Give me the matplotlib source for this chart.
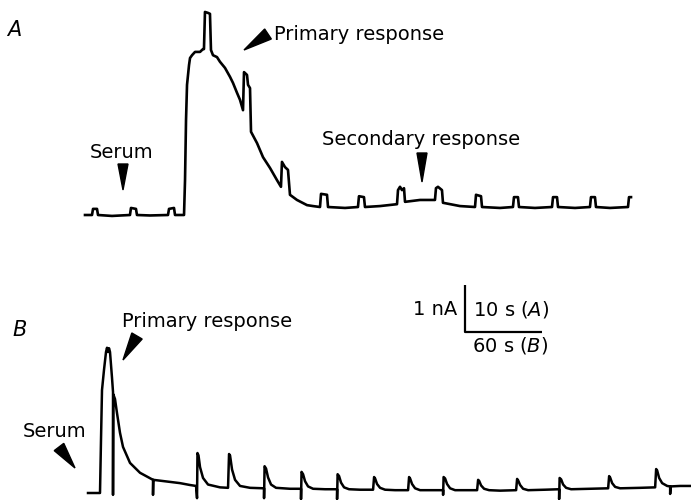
import matplotlib
matplotlib.use("Agg")
import matplotlib.pyplot as plt
from matplotlib.patches import Polygon
import numpy as np

# trace A: time (s) and current (nA)
a_time = [0, 0.91, 1.04, 1.56, 1.69, 3.51, 5.84, 5.97, 6.62, 6.75, 8.44,
          10.78, 10.91, 11.56, 11.69, 12.86, 12.99, 13.12, 13.25, 13.51, 13.64,
          13.90, 14.29, 14.94, 15.32, 15.45, 15.58, 15.97, 16.23, 16.36, 16.62,
          17.14, 17.53, 18.18, 18.83, 19.22, 19.74, 20.13, 20.52, 20.65, 21.04,
          21.17, 21.43, 21.56, 22.34, 23.12, 24.03, 24.94, 25.45, 25.58, 25.97,
          26.36, 26.62, 27.53, 28.83, 29.61, 30.52, 30.65, 31.43, 31.56, 33.77,
          35.45, 35.58, 36.23, 36.36, 38.31, 40.52, 40.65, 40.91, 41.17, 41.43,
          41.56, 43.51, 45.45, 45.58, 45.84, 46.36, 46.49, 48.70, 50.65, 50.78,
          51.43, 51.56, 53.90, 55.58, 55.71, 56.23, 56.36, 58.44, 60.65, 60.78,
          61.30, 61.43, 63.64, 65.58, 65.71, 66.23, 66.36, 68.18, 70.52, 70.65,
          70.91]
a_current = [0, 0, 0.13, 0.13, 0, -0.02, 0, 0.15, 0.13, 0, -0.01,
             0, 0.13, 0.15, 0, 0, 0.74, 2.02, 2.77, 3.19, 3.34,
             3.40, 3.47, 3.47, 3.53, 3.53, 4.32, 4.30, 4.28, 3.51, 3.40,
             3.36, 3.26, 3.13, 2.94, 2.81, 2.60, 2.45, 2.23, 3.04, 2.98,
             2.77, 2.70, 1.77, 1.53, 1.23, 1.00, 0.74, 0.60, 1.13, 1.02,
             0.96, 0.43, 0.32, 0.21, 0.19, 0.17, 0.45, 0.43, 0.17, 0.15,
             0.17, 0.40, 0.38, 0.17, 0.19, 0.23, 0.53, 0.60, 0.53, 0.57,
             0.28, 0.32, 0.32, 0.57, 0.60, 0.53, 0.26, 0.19, 0.17, 0.43,
             0.40, 0.17, 0.15, 0.17, 0.38, 0.38, 0.17, 0.15, 0.17, 0.38,
             0.38, 0.17, 0.15, 0.17, 0.38, 0.38, 0.17, 0.15, 0.17, 0.38,
             0.38]

# trace B: time (s) and current (nA)
b_time = [0, 9.35, 10.13, 10.91, 12.47, 14.03, 14.81, 15.6, 16.37, 17.15,
          18.71, 19.49, 19.49, 19.7, 21.04, 22.6, 24.94, 27.28, 32.74, 40.53,
          50.66, 50.66, 50.9, 71.71, 79.5, 84.18, 84.96, 85.3, 86.1, 87.30,
          89.63, 93.53, 102.88, 109.12, 109.90, 110.68, 112.24, 114.58, 118.47, 126.27,
          137.18, 137.18, 137.6, 138.74, 140.30, 142.63, 146.53, 157.44, 165.99, 165.99,
          166.4, 167.58, 169.13, 171.47, 175.37, 184.72, 194.08, 194.08, 194.5, 195.64,
          197.19, 199.53, 203.43, 212.0, 222.14, 222.92, 223.70, 225.25, 227.59, 231.49,
          239.28, 249.42, 250.19, 250.97, 252.53, 254.87, 258.77, 266.56, 276.70, 276.70,
          277.1, 278.25, 279.81, 282.15, 286.05, 293.84, 303.20, 303.98, 304.76, 306.31,
          308.65, 312.55, 321.12, 333.59, 334.37, 335.15, 336.71, 339.05, 342.95, 356.20,
          367.11, 367.11, 367.5, 368.67, 370.23, 372.56, 376.46, 391.27, 405.30, 406.08,
          406.86, 408.42, 410.76, 414.65, 430.24, 441.93, 442.71, 443.49, 445.05, 447.39,
          451.29, 453.62, 453.62, 454.0, 461.42, 469.99]
b_current = [0, 0, 1.13, 2.19, 2.62, 3.00, 3.09, 3.00, 3.08, 3.00,
             2.45, 2.15, -0.04, 2.10, 2.00, 1.70, 1.28, 0.98, 0.64, 0.43,
             0.28, -0.04, 0.28, 0.21, 0.17, 0.15, -0.11, 0.85, 0.80, 0.55,
             0.32, 0.18, 0.12, 0.11, 0.83, 0.80, 0.50, 0.28, 0.15, 0.11,
             0.10, -0.11, 0.57, 0.52, 0.33, 0.18, 0.11, 0.09, 0.09, -0.13,
             0.45, 0.40, 0.25, 0.14, 0.09, 0.08, 0.08, -0.13, 0.40, 0.36,
             0.22, 0.12, 0.08, 0.07, 0.07, 0.34, 0.31, 0.19, 0.11, 0.07,
             0.06, 0.06, 0.34, 0.31, 0.19, 0.10, 0.06, 0.06, 0.06, -0.04,
             0.34, 0.31, 0.19, 0.10, 0.06, 0.06, 0.06, 0.28, 0.26, 0.16,
             0.09, 0.06, 0.05, 0.06, 0.30, 0.27, 0.17, 0.09, 0.06, 0.07,
             0.08, -0.13, 0.32, 0.29, 0.18, 0.11, 0.08, 0.09, 0.10, 0.36,
             0.33, 0.21, 0.13, 0.10, 0.11, 0.12, 0.51, 0.48, 0.32, 0.21,
             0.15, 0.14, -0.02, 0.14, 0.15, 0.15]

# scale bar: 1 nA, 10 s in A
bar_current = 1.0
bar_time = 10.0

W, H = 691, 500
fig = plt.figure(figsize=(W / 100, H / 100), dpi=100)
plt.rcParams['font.family'] = ['DejaVu Sans']
FS = 14

# 7.7 px per s (A), 77/60 px per s (B), 47 px per nA
ax_a = fig.add_axes([0, 0, 1, 1])
ax_a.set_xlim(-85 / 7.7, (W - 85) / 7.7)
ax_a.set_ylim((215 - H) / 47, 215 / 47)
ax_a.axis("off")

ax_b = fig.add_axes([0, 0, 1, 1])
ax_b.set_xlim(-88 / (77 / 60), (W - 88) / (77 / 60))
ax_b.set_ylim((493 - H) / 47, 493 / 47)
ax_b.axis("off")
ax_b.patch.set_alpha(0)

ax_a.plot(a_time, a_current, color="black", lw=1.9, solid_joinstyle="round")
ax_b.plot(b_time, b_current, color="black", lw=1.8, solid_joinstyle="round")

# scale bar drawn in A's units
bx, by = 49.35, -2.49
ax_a.plot([bx, bx, bx + bar_time], [by + bar_current, by, by],
          color="black", lw=1.6, solid_capstyle="butt")


def fx(x):
    return x / W


def fy(y):
    return 1 - y / H


def label(x, y, s, size=FS, **kw):
    fig.text(fx(x), fy(y), s, fontsize=size, va="baseline", ha="left", **kw)


def arrowhead(tip, base, width):
    tx, ty = tip
    bxp, byp = base
    dx, dy = tx - bxp, ty - byp
    n = np.hypot(dx, dy)
    px, py = -dy / n * width / 2, dx / n * width / 2
    pts = [(fx(tx), fy(ty)), (fx(bxp + px), fy(byp + py)), (fx(bxp - px), fy(byp - py))]
    fig.patches.append(Polygon(pts, closed=True, color="black",
                               transform=fig.transFigure, figure=fig))


label(7, 36, "A", size=15, style="italic")
label(90, 158, "Serum")
label(274, 40, "Primary response")
label(322, 145, "Secondary response")
arrowhead((123, 190), (123, 164), 10)
arrowhead((244, 50), (268, 34), 12)
arrowhead((422, 182), (422, 153), 10)

label(12, 336, "B", size=15, style="italic")
label(122, 327, "Primary response")
label(23, 437, "Serum")
arrowhead((123, 360), (137, 336), 12)
arrowhead((75, 468), (59, 447), 12)

label(413, 315, "1 nA")
label(473, 315, r"10 s ($\mathit{A}$)")
label(472, 352, r"60 s ($\mathit{B}$)")

fig.savefig("out.png", dpi=100)
